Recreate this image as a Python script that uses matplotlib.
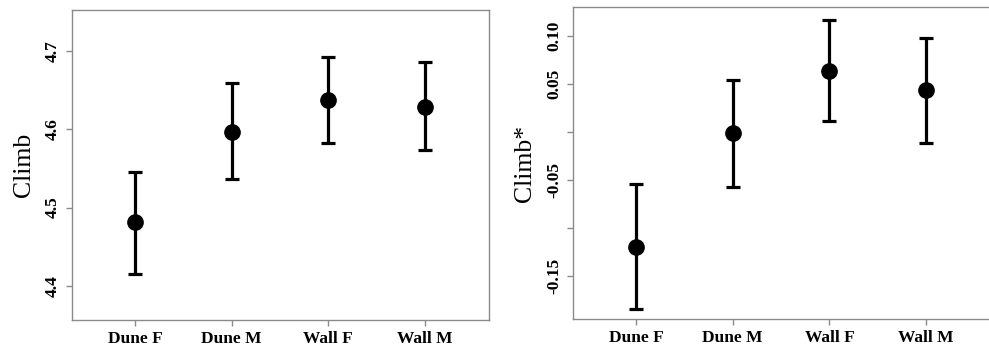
import matplotlib
matplotlib.use("Agg")
import matplotlib.pyplot as plt

# groups on the x axis
groups = ["Dune F", "Dune M", "Wall F", "Wall M"]

# left panel: Climb means and interval bounds
climb_mean = [4.481, 4.597, 4.638, 4.629]
climb_low = [4.415, 4.537, 4.583, 4.574]
climb_high = [4.545, 4.659, 4.693, 4.686]
climb_ticks = [4.4, 4.5, 4.6, 4.7]
climb_ticklabels = ["4.4", "4.5", "4.6", "4.7"]

# right panel: Climb* means and interval bounds
climbs_mean = [-0.1195, -0.0017, 0.0634, 0.043]
climbs_low = [-0.1843, -0.0572, 0.0114, -0.0114]
climbs_high = [-0.0547, 0.054, 0.1158, 0.0974]
climbs_ticks = [-0.15, -0.10, -0.05, 0.0, 0.05, 0.10]
climbs_ticklabels = ["-0.15", "", "-0.05", "", "0.05", "0.10"]

grey = "#8a8a8a"
fig = plt.figure(figsize=(9.89, 3.46), dpi=100)
ax1 = fig.add_axes([0.0728, 0.0751, 0.4216, 0.896])
ax2 = fig.add_axes([0.5794, 0.078, 0.4216, 0.901])


def draw(ax, mean, low, high, ticks, ticklabels, ylim, ylabel):
    x = list(range(1, len(groups) + 1))
    err = [[m - l for m, l in zip(mean, low)], [h - m for m, h in zip(mean, high)]]
    ax.errorbar(x, mean, yerr=err, fmt="o", color="black", ms=11,
                elinewidth=2.3, capsize=4.8, capthick=2.3)
    ax.set_xlim(0.35, 4.66)
    ax.set_ylim(*ylim)
    ax.set_xticks(x)
    ax.set_xticklabels(groups, fontfamily="Liberation Serif", fontweight="bold", fontsize=12.5)
    ax.set_yticks(ticks)
    ax.set_yticklabels(ticklabels, fontfamily="Liberation Serif", fontweight="bold",
                       fontsize=12.5, rotation=90, va="center")
    ax.set_ylabel(ylabel, fontfamily="Liberation Serif", fontsize=18.5, labelpad=7)
    for s in ax.spines.values():
        s.set_color(grey)
        s.set_linewidth(1.0)
    ax.tick_params(color=grey, length=4, width=1, pad=4)


draw(ax1, climb_mean, climb_low, climb_high, climb_ticks, climb_ticklabels,
     (4.356, 4.753), "Climb")
draw(ax2, climbs_mean, climbs_low, climbs_high, climbs_ticks, climbs_ticklabels,
     (-0.1947, 0.1295), "Climb*")

fig.savefig("out.png", dpi=100)
